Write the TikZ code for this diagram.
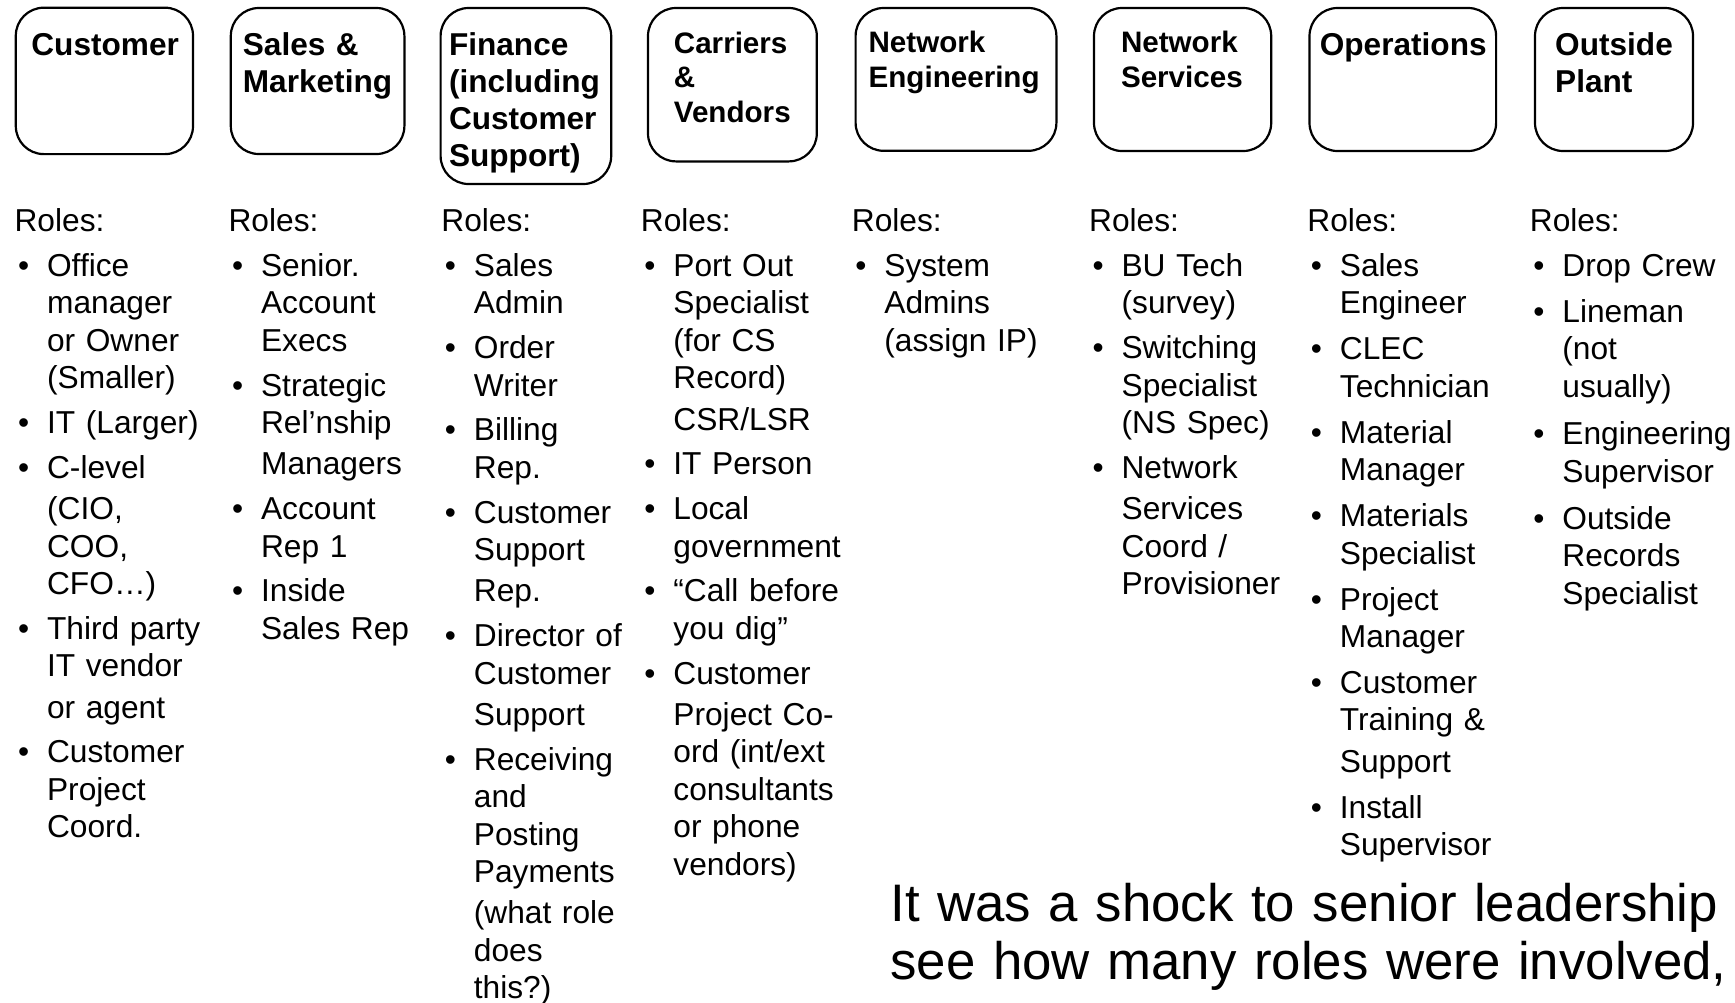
\documentclass[tikz,border=0pt]{standalone}
\usepackage{fontspec}
\setmainfont{Liberation Sans}
\newcommand\rbul{\makebox[16.25pt][l]{\hspace*{1.75pt}•}}
\newcommand\rind{\hspace*{16.25pt}}
\def\bgap{3.7pt}
\def\bgapw{4.3pt}
\def\sgap{2pt}
\tikzset{
  deptbox/.style={draw, line width=1.1pt, rounded corners=14pt, inner sep=0pt},
  hdr/.style={anchor=base west, inner sep=0pt, text width=150pt, align=left,
    font=\bfseries\fontsize{15.8pt}{18.5pt}\selectfont},
  hdrs/.style={hdr, font=\bfseries\fontsize{14.8pt}{17.25pt}\selectfont},
  body/.style={anchor=base west, inner sep=0pt, text width=260pt, align=left,
    font=\fontsize{15.85pt}{18.7pt}\selectfont},
  note/.style={anchor=base west, inner sep=0pt, text width=600pt, align=left,
    font=\fontsize{26.4pt}{29.4pt}\selectfont}
}
\begin{document}
\begin{tikzpicture}[x=0.5pt,y=-0.5pt]
\path[use as bounding box, fill=white] (0,0) rectangle (1735,1002);
\clip (0,0) rectangle (1735,1002);

% department boxes
\node[deptbox, minimum width=88.6pt,  minimum height=73.2pt] (bCust) at (104.4,80.9) {};
\node[deptbox, minimum width=86.8pt,  minimum height=73pt]   (bSales) at (317.6,81) {};
\node[deptbox, minimum width=85.3pt,  minimum height=88pt]   (bFin) at (525.9,96) {};
\node[deptbox, minimum width=84.4pt,  minimum height=76.7pt] (bCarr) at (732.4,84.7) {};
\node[deptbox, minimum width=100.4pt, minimum height=71.4pt] (bNE) at (956,79.4) {};
\node[deptbox, minimum width=88.6pt,  minimum height=71.5pt] (bNS) at (1182.6,79.5) {};
\node[deptbox, minimum width=93.3pt,  minimum height=71.5pt] (bOps) at (1402.8,79.5) {};
\node[deptbox, minimum width=79pt,    minimum height=71.5pt] (bOSP) at (1614,79.5) {};

% department titles
\node[hdr]  (tCust)  at (31,55)      {Customer};
\node[hdr]  (tSales) at (242.5,55)   {Sales \&\\Marketing};
\node[hdr]  (tFin)   at (448.6,55)   {Finance\\(including\\Customer\\Support)};
\node[hdrs] (tCarr)  at (673.5,53)   {Carriers\\\&\\Vendors};
\node[hdrs] (tNE)    at (868.2,52.5) {Network\\Engineering};
\node[hdrs] (tNS)    at (1120.6,52.5){Network\\Services};
\node[hdr]  (tOps)   at (1319.4,55)  {Operations};
\node[hdr]  (tOSP)   at (1554.8,55)  {Outside\\Plant};

% role lists
\node[body] (rCust) at (14.2,231.7) {Roles:\\[\bgap]
\rbul Office\\ \rind manager\\ \rind or Owner\\ \rind (Smaller)\\[\bgap]
\rbul IT (Larger)\\[\bgap]
\rbul C-level\\[\sgap] \rind (CIO,\\ \rind COO,\\ \rind CFO…)\\[\bgap]
\rbul Third party\\ \rind IT vendor\\[\sgap] \rind or agent\\[\bgap]
\rbul Customer\\ \rind Project\\ \rind Coord.};

\node[body] (rSales) at (228.2,231.7) {Roles:\\[\bgap]
\rbul Senior.\\ \rind Account\\ \rind Execs\\[\bgap]
\rbul Strategic\\ \rind Rel’nship\\[\sgap] \rind Managers\\[\bgap]
\rbul Account\\ \rind Rep 1\\[\bgap]
\rbul Inside\\ \rind Sales Rep};

\node[body] (rFin) at (441,231.7) {Roles:\\[\bgap]
\rbul Sales\\ \rind Admin\\[\bgap]
\rbul Order\\ \rind Writer\\[\bgap]
\rbul Billing\\ \rind Rep.\\[\bgap]
\rbul Customer\\ \rind Support\\[\sgap] \rind Rep.\\[\bgap]
\rbul Director of\\ \rind Customer\\[\sgap] \rind Support\\[\bgap]
\rbul Receiving\\ \rind and\\ \rind Posting\\ \rind Payments\\[\sgap] \rind (what role\\ \rind does\\ \rind this?)};

\node[body] (rCarr) at (640.5,231.7) {Roles:\\[\bgap]
\rbul Port Out\\ \rind Specialist\\ \rind (for CS\\ \rind Record)\\[\sgap] \rind CSR/LSR\\[\bgap]
\rbul IT Person\\[\bgap]
\rbul Local\\ \rind government\\[\bgap]
\rbul “Call before\\ \rind you dig”\\[\bgap]
\rbul Customer\\[\sgap] \rind Project Co-\\ \rind ord (int/ext\\ \rind consultants\\ \rind or phone\\ \rind vendors)};

\node[body] (rNE) at (851.5,231.7) {Roles:\\[\bgap]
\rbul System\\ \rind Admins\\ \rind (assign IP)};

\node[body] (rNS) at (1088.7,231.7) {Roles:\\[\bgap]
\rbul BU Tech\\ \rind (survey)\\[\bgap]
\rbul Switching\\ \rind Specialist\\ \rind (NS Spec)\\[\bgap]
\rbul Network\\[\sgap] \rind Services\\ \rind Coord /\\ \rind Provisioner};

\node[body] (rOps) at (1307,231.7) {Roles:\\[\bgap]
\rbul Sales\\ \rind Engineer\\[\bgapw]
\rbul CLEC\\ \rind Technician\\[\bgapw]
\rbul Material\\ \rind Manager\\[\bgapw]
\rbul Materials\\ \rind Specialist\\[\bgapw]
\rbul Project\\ \rind Manager\\[\bgapw]
\rbul Customer\\ \rind Training \&\\[\sgap] \rind Support\\[\bgapw]
\rbul Install\\ \rind Supervisor};

\node[body] (rOSP) at (1529.5,231.7) {Roles:\\[\bgap]
\rbul Drop Crew\\[\bgapw]
\rbul Lineman\\ \rind (not\\ \rind usually)\\[5pt]
\rbul Engineering\\ \rind Supervisor\\[5pt]
\rbul Outside\\ \rind Records\\ \rind Specialist};

% closing remark
\node[note] (remark) at (890,921) {It was a shock to senior leadership\\see how many roles were involved,};
\end{tikzpicture}
\end{document}
